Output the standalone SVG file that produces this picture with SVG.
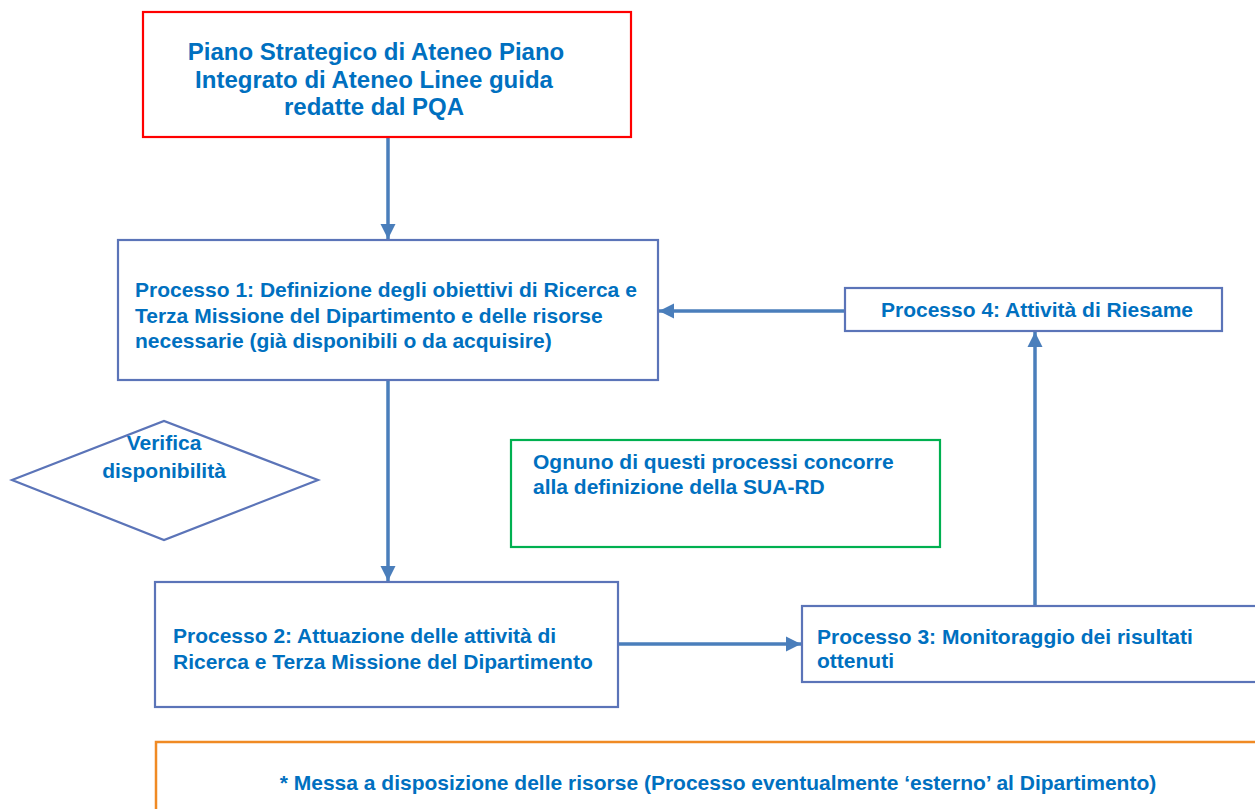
<svg xmlns="http://www.w3.org/2000/svg" width="1255" height="809" viewBox="0 0 1255 809">
<style>
  .t { font-family: "Liberation Sans", Arial, sans-serif; font-weight: bold; fill: #0070C0; font-size: 21px; }
  .big { font-size: 24px; }
  .box { fill: #ffffff; stroke: #5B74B8; stroke-width: 2.2; }
  .con { fill: none; stroke: #4A7EBB; stroke-width: 3.5; }
</style>
<defs>
  <marker id="ah" markerUnits="userSpaceOnUse" markerWidth="16" markerHeight="16" viewBox="0 0 16 16" refX="15" refY="8" orient="auto">
    <path d="M0,0.5 L15,8 L0,15.5 Z" fill="#4A7EBB"/>
  </marker>
</defs>
<rect width="1255" height="809" fill="#ffffff"/>

<g id="connectors">
  <line class="con" x1="388" y1="137" x2="388" y2="239" marker-end="url(#ah)"/>
  <line class="con" x1="388" y1="380" x2="388" y2="581" marker-end="url(#ah)"/>
  <line class="con" x1="845" y1="311" x2="659" y2="311" marker-end="url(#ah)"/>
  <line class="con" x1="618" y1="644" x2="801" y2="644" marker-end="url(#ah)"/>
  <line class="con" x1="1035" y1="606" x2="1035" y2="332" marker-end="url(#ah)"/>
</g>

<g id="node-piano">
  <rect x="143" y="12" width="488" height="125" fill="#ffffff" stroke="#FF0000" stroke-width="2.2"/>
  <text class="t big" text-anchor="middle"><tspan x="376" y="60">Piano Strategico di Ateneo Piano</tspan><tspan x="374" y="88">Integrato di Ateneo Linee guida</tspan><tspan x="374" y="115">redatte dal PQA</tspan></text>
</g>

<g id="node-p1">
  <rect class="box" x="118" y="240" width="540" height="140"/>
  <text class="t"><tspan x="135" y="297">Processo 1: Definizione degli obiettivi di Ricerca e</tspan><tspan x="135" y="323">Terza Missione del Dipartimento e delle risorse</tspan><tspan x="135" y="348">necessarie (già disponibili o da acquisire)</tspan></text>
</g>

<g id="node-p4">
  <rect class="box" x="845" y="288" width="377" height="43"/>
  <text class="t" x="881" y="317">Processo 4: Attività di Riesame</text>
</g>

<g id="node-verifica">
  <polygon class="box" points="12,480 164,421 318,480 164,540"/>
  <text class="t" text-anchor="middle"><tspan x="164" y="450">Verifica</tspan><tspan x="164" y="478">disponibilità</tspan></text>
</g>

<g id="node-sua">
  <rect x="511" y="440" width="429" height="107" fill="#ffffff" stroke="#00B050" stroke-width="2.2"/>
  <text class="t"><tspan x="533" y="469">Ognuno di questi processi concorre</tspan><tspan x="533" y="494">alla definizione della SUA-RD</tspan></text>
</g>

<g id="node-p2">
  <rect class="box" x="155" y="582" width="463" height="125"/>
  <text class="t"><tspan x="173" y="643">Processo 2: Attuazione delle attività di</tspan><tspan x="173" y="669">Ricerca e Terza Missione del Dipartimento</tspan></text>
</g>

<g id="node-p3">
  <rect class="box" x="802" y="606" width="470" height="76"/>
  <text class="t"><tspan x="817" y="644">Processo 3: Monitoraggio dei risultati</tspan><tspan x="817" y="668">ottenuti</tspan></text>
</g>

<g id="node-risorse">
  <rect x="156" y="742" width="1120" height="90" fill="#ffffff" stroke="#F08A24" stroke-width="2.5"/>
  <text class="t" x="718" y="790" text-anchor="middle" font-size="19.3">* Messa a disposizione delle risorse (Processo eventualmente ‘esterno’ al Dipartimento)</text>
</g>
</svg>
